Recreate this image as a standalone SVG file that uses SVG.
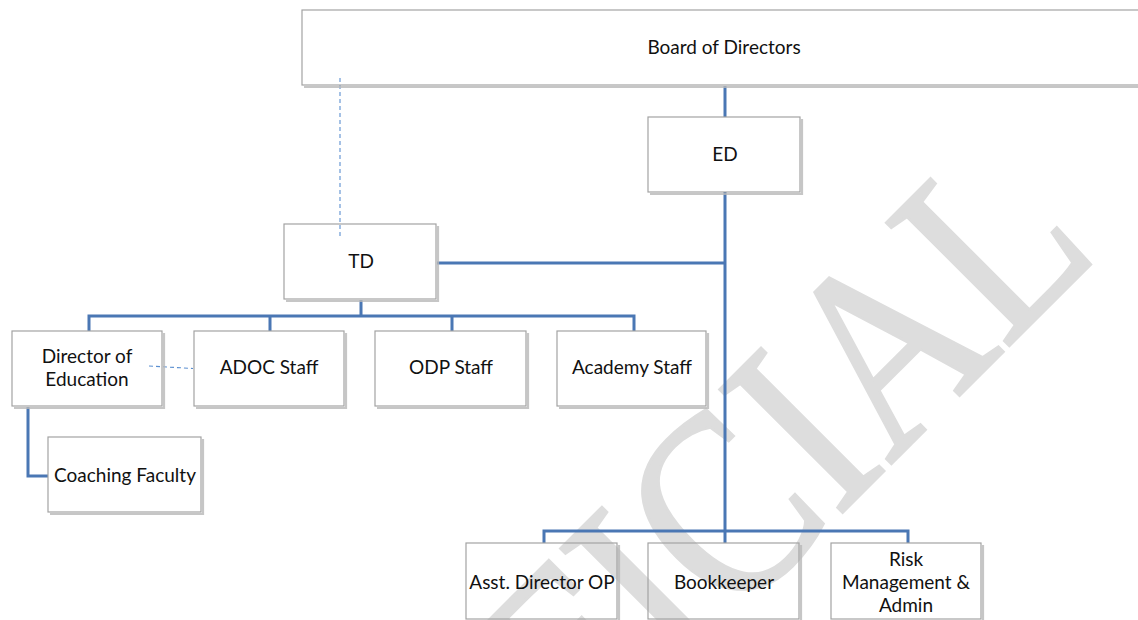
<svg xmlns="http://www.w3.org/2000/svg" width="1138" height="620" viewBox="0 0 1138 620">
<style>
.box{fill:none;stroke:#a3a3a3;stroke-width:1.2}
.sh{fill:none;stroke:#b8b8b8;stroke-width:2.2;opacity:.8}
.t{font-family:Lato,"Liberation Sans",sans-serif;font-size:19px;fill:#111;text-anchor:middle}
.c{fill:none;stroke:#4a77b4;stroke-width:3}
.d{fill:none;stroke:#5b8fd0;stroke-width:1.1;stroke-dasharray:4 3}
.wm{font-family:"Liberation Serif",serif;font-size:225px;fill:#dddddd;stroke:#dddddd;stroke-width:2.5}
</style>
<rect x="0" y="0" width="1138" height="620" fill="#ffffff"/>
<text class="wm" transform="rotate(-45) scale(1,1.18)" x="600" y="812" text-anchor="end">OFFICIAL</text>

<g id="connectors">
<path class="c" d="M725,86 V117"/>
<path class="c" d="M725,192 V543"/>
<path class="c" d="M437,263 H725"/>
<path class="c" d="M361,300 V316 M89,331 V316 H634 V331 M270,316 V331 M452,316 V331"/>
<path class="c" d="M28,407 V476 H48"/>
<path class="c" d="M544,543 V531 H908 V543"/>
<path class="d" d="M340,78 V237"/>
<path class="d" d="M149,366 L193,368.5"/>
</g>

<g id="board">
<path class="sh" d="M304,87 H1140"/>
<rect class="box" x="302" y="10" width="840" height="75"/>
<text class="t" x="724" y="54">Board of Directors</text>
</g>
<g id="ed">
<path class="sh" d="M650,194 H802 V119"/>
<rect class="box" x="648" y="117" width="152" height="75"/>
<text class="t" x="725" y="161">ED</text>
</g>
<g id="td">
<path class="sh" d="M286,301 H438 V226"/>
<rect class="box" x="284" y="224" width="152" height="75"/>
<text class="t" x="361" y="268">TD</text>
</g>
<g id="dir-education">
<path class="sh" d="M14,408 H164 V333"/>
<rect class="box" x="12" y="331" width="150" height="75"/>
<text class="t" x="87" y="363">Director of</text>
<text class="t" x="87" y="386">Education</text>
</g>
<g id="adoc">
<path class="sh" d="M196,408 H346 V333"/>
<rect class="box" x="194" y="331" width="150" height="75"/>
<text class="t" x="269" y="374">ADOC Staff</text>
</g>
<g id="odp">
<path class="sh" d="M377,408 H528 V333"/>
<rect class="box" x="375" y="331" width="151" height="75"/>
<text class="t" x="451" y="374">ODP Staff</text>
</g>
<g id="academy">
<path class="sh" d="M559,408 H708 V333"/>
<rect class="box" x="557" y="331" width="149" height="75"/>
<text class="t" x="632" y="374">Academy Staff</text>
</g>
<g id="coaching">
<path class="sh" d="M50,514 H203 V439"/>
<rect class="box" x="48" y="437" width="153" height="75"/>
<text class="t" x="125" y="482">Coaching Faculty</text>
</g>
<g id="asst-director">
<path class="sh" d="M468,621 H619 V545"/>
<rect class="box" x="466" y="543" width="151" height="76"/>
<text class="t" x="542" y="589">Asst. Director OP</text>
</g>
<g id="bookkeeper">
<path class="sh" d="M650,621 H801 V545"/>
<rect class="box" x="648" y="543" width="151" height="76"/>
<text class="t" x="724" y="589">Bookkeeper</text>
</g>
<g id="risk">
<path class="sh" d="M833,621 H983 V545"/>
<rect class="box" x="831" y="543" width="150" height="76"/>
<text class="t" x="906" y="566">Risk</text>
<text class="t" x="906" y="589">Management &amp;</text>
<text class="t" x="906" y="612">Admin</text>
</g>
</svg>
